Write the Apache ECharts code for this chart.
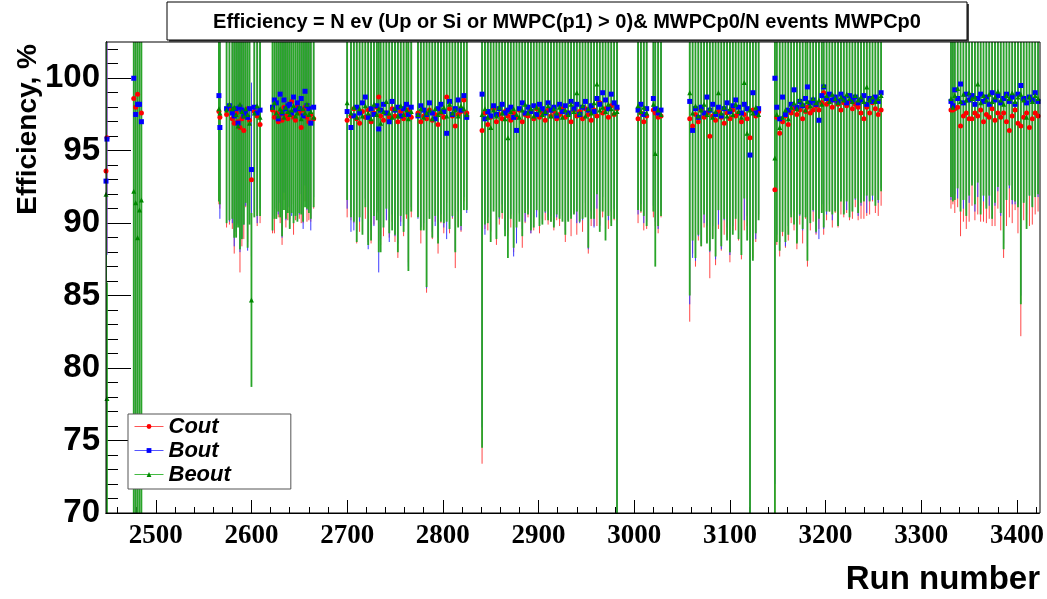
<!DOCTYPE html>
<html><head><meta charset="utf-8">
<script src="https://cdn.jsdelivr.net/npm/echarts@6/dist/echarts.min.js"></script>
<style>html,body{margin:0;padding:0;background:#fff}#c{width:1047px;height:599px}</style>
</head><body><div id="c"></div>
<script>
// ---- data ----
const runs = [
 2448, 2449,
 2477, 2479, 2481, 2483, 2485,
 2566, 2567, 2574, 2577, 2580, 2582, 2584, 2586, 2588, 2590, 2592, 2594, 2596, 2598, 2600, 2603, 2606, 2609, 2622, 2624, 2626, 2628, 2630, 2632, 2634, 2636, 2638, 2640, 2642, 2644, 2646, 2648, 2650, 2652, 2654, 2656, 2658, 2660, 2662, 2665,
 2700, 2704, 2707, 2710, 2713, 2716, 2719, 2722, 2725, 2728, 2731, 2733, 2735, 2738, 2741, 2744, 2747, 2750, 2753, 2756, 2759, 2762, 2764, 2767, 2774, 2777, 2780, 2783, 2786, 2789, 2792, 2795, 2798, 2801, 2804, 2807, 2810, 2813, 2816, 2819, 2822, 2825,
 2841, 2844, 2847, 2850, 2853, 2856, 2859, 2862, 2865, 2868, 2871, 2874, 2877, 2880, 2883, 2886, 2889, 2892, 2895, 2898, 2901, 2904, 2907, 2910, 2913, 2916, 2919, 2922, 2925, 2928, 2931, 2934, 2937, 2940, 2943, 2946, 2949, 2952, 2955, 2958, 2961, 2964, 2967, 2970, 2973, 2976, 2979, 2982,
 3004, 3007, 3010, 3013, 3020, 3022, 3025, 3028,
 3058, 3061, 3064, 3067, 3070, 3073, 3076, 3079, 3082, 3085, 3088, 3091, 3094, 3097, 3100, 3103, 3106, 3109, 3112, 3115, 3118, 3121, 3124, 3127, 3130,
 3147, 3149, 3152, 3155, 3158, 3161, 3164, 3167, 3170, 3173, 3176, 3179, 3181, 3184, 3187, 3190, 3193, 3196, 3198, 3201, 3204, 3207, 3210, 3213, 3216, 3219, 3222, 3225, 3228, 3231, 3234, 3237, 3240, 3243, 3246, 3249, 3252, 3255, 3258,
 3331, 3333, 3335, 3338, 3341, 3344, 3347, 3350, 3353, 3356, 3359, 3362, 3365, 3368, 3371, 3374, 3377, 3380, 3383, 3386, 3389, 3392, 3395, 3398, 3401, 3404, 3407, 3410, 3413, 3416, 3419, 3422
];
const cout = [
 93.6, 95.9,
 98.6, 98.0, 98.9, 98.2, 97.6,
 97.7, 97.3, 97.5, 97.9, 97.2, 96.9, 97.6, 97.0, 96.6, 97.2, 96.4, 97.6, 97.9, 97.1, 93.0, 97.7, 97.4, 96.8, 97.8, 97.3, 97.6, 97.0, 97.5, 97.1, 98.0, 97.4, 97.2, 97.6, 98.4, 97.3, 97.1, 98.1, 97.6, 96.6, 97.8, 98.0, 97.3, 97.0, 97.5, 97.2,
 97.1, 97.4, 97.9, 97.2, 96.9, 97.7, 97.3, 97.8, 97.0, 97.6, 98.0, 98.7, 97.4, 97.1, 97.6, 97.3, 97.9, 97.4, 97.0, 97.7, 97.2, 97.5, 97.8, 97.3, 97.6, 97.0, 97.4, 97.2, 97.8, 97.1, 97.5, 96.8, 97.6, 97.3, 98.7, 97.9, 97.4, 96.7, 97.5, 97.7, 98.5, 97.6,
 96.4, 97.6, 96.8, 97.3, 97.9, 97.0, 97.5, 97.2, 97.7, 97.4, 97.1, 97.6, 97.3, 97.8, 97.0, 97.5, 97.4, 97.7, 97.2, 97.9, 97.3, 97.6, 97.1, 97.8, 97.4, 97.7, 97.2, 97.5, 97.9, 97.3, 97.6, 97.0, 97.8, 97.4, 97.7, 97.2, 97.9, 97.5, 97.1, 97.8, 97.4, 98.3, 97.6, 97.9, 97.3, 98.1, 97.5, 97.9,
 97.2, 97.6, 97.0, 97.4, 97.8, 97.6, 97.3, 97.4,
 97.2, 96.7, 97.5, 97.0, 97.8, 97.3, 97.6, 96.0, 97.4, 97.1, 97.7, 97.3, 96.9, 97.6, 97.2, 97.8, 97.4, 97.6, 97.0, 97.5, 97.2, 95.9, 97.8, 97.4, 97.7,
 92.3, 97.3, 96.2, 97.0, 97.4, 96.8, 97.6, 97.9, 97.5, 97.8, 97.2, 97.7, 98.0, 97.6, 97.8, 98.1, 97.8, 98.3, 99.0, 98.2, 98.4, 98.0, 98.5, 98.2, 97.8, 98.3, 98.1, 98.4, 97.9, 98.2, 98.0, 97.6, 97.2, 98.0, 97.6, 98.3, 97.9, 97.5, 97.8,
 97.8, 97.8, 97.9, 98.0, 96.7, 97.4, 97.6, 97.2, 97.2, 97.6, 97.4, 97.8, 97.0, 97.5, 97.3, 97.9, 97.1, 97.6, 97.3, 97.6, 97.0, 96.4, 97.4, 97.8, 96.9, 96.7, 97.3, 97.6, 96.6, 97.2, 97.6, 97.4
];
const bout = [
 92.9, 95.8,
 100.0, 97.5, 98.2, 98.2, 97.0,
 98.8, 96.6, 97.9, 98.1, 97.6, 97.4, 97.9, 96.9, 98.0, 97.8, 97.4, 97.7, 97.3, 97.9, 93.7, 98.0, 97.6, 97.8, 98.0, 98.5, 98.3, 97.2, 98.9, 97.6, 98.5, 97.9, 98.1, 98.2, 97.6, 98.7, 97.8, 98.3, 97.9, 98.6, 97.4, 99.1, 98.1, 97.9, 96.9, 98.0,
 97.7, 96.6, 97.4, 98.0, 97.6, 98.3, 98.7, 97.3, 97.9, 97.5, 98.1, 96.5, 97.8, 98.2, 97.6, 97.0, 98.4, 97.8, 98.0, 97.4, 97.9, 98.2, 97.5, 98.0, 97.4, 98.1, 97.8, 97.5, 98.3, 97.6, 97.2, 97.9, 98.2, 97.7, 96.2, 98.4, 97.5, 97.9, 98.5, 97.8, 98.8, 97.3,
 98.9, 97.2, 97.7, 97.4, 98.1, 97.5, 97.9, 98.2, 97.6, 97.8, 98.0, 97.3, 96.4, 97.9, 98.3, 97.6, 98.0, 97.7, 98.1, 97.5, 98.2, 97.9, 97.6, 98.3, 97.8, 98.0, 97.4, 98.2, 97.7, 98.1, 97.6, 98.4, 97.9, 98.2, 97.5, 98.0, 98.4, 97.8, 98.1, 97.7, 98.6, 98.2, 99.0, 98.5, 97.9, 98.9, 98.3, 98.0,
 97.8, 98.2, 97.5, 97.9, 98.6, 97.9, 97.6, 97.8,
 98.4, 96.4, 97.9, 97.3, 98.0, 97.6, 98.7, 97.8, 98.2, 97.5, 98.0, 97.4, 97.9, 98.3, 97.7, 98.1, 98.5, 98.0, 97.6, 98.2, 97.9, 94.7, 99.0, 97.6, 97.9,
 100.0, 98.0, 97.2, 98.7, 97.5, 97.8, 98.2, 99.2, 98.0, 98.4, 98.1, 98.6, 99.4, 98.3, 98.5, 98.2, 97.1, 98.8, 99.4, 98.6, 98.9, 98.5, 98.7, 98.4, 98.9, 98.6, 98.3, 98.8, 98.5, 98.7, 98.3, 98.5, 98.8, 98.2, 98.6, 98.4, 98.7, 98.4, 99.0,
 98.4, 98.1, 99.2, 98.6, 99.6, 98.3, 98.9, 98.5, 98.8, 98.2, 98.6, 98.9, 98.4, 98.7, 98.2, 99.0, 98.5, 98.8, 98.3, 98.6, 98.9, 98.4, 98.7, 98.2, 98.9, 99.5, 98.6, 98.3, 98.7, 98.5, 99.0, 98.4
];
const beout = [
 92.0, 77.9,
 92.2, 91.4, 89.0, 90.9, 91.6,
 97.9, 97.6, 97.8, 98.2, 97.9, 98.0, 97.5, 96.7, 98.2, 97.7, 97.4, 97.9, 97.5, 96.9, 84.7, 97.6, 98.1, 97.3, 98.0, 98.3, 97.6, 97.4, 97.9, 97.7, 97.3, 98.0, 97.7, 97.5, 97.8, 98.1, 97.4, 97.6, 98.0, 97.2, 97.9, 97.6, 98.2, 97.5, 97.7, 97.3,
 98.3, 97.6, 98.0, 97.3, 97.9, 97.4, 98.1, 97.6, 97.2, 98.2, 97.5, 97.9, 96.9, 97.7, 98.4, 97.6, 97.3, 97.9, 97.4, 98.1, 97.5, 97.8, 97.2, 97.7, 97.5, 97.9, 97.3, 97.6, 97.8, 97.2, 97.9, 97.5, 97.7, 98.0, 97.4, 98.2, 97.6, 97.8, 97.4, 98.1, 97.9, 97.5,
 97.5, 97.9, 97.3, 96.6, 97.8, 97.4, 98.0, 97.6, 97.2, 95.9, 97.7, 97.9, 97.5, 97.3, 97.8, 98.2, 97.6, 97.9, 97.4, 98.0, 97.8, 97.5, 97.7, 98.1, 97.4, 97.9, 97.6, 98.0, 97.3, 97.8, 97.5, 98.2, 97.7, 99.0, 97.6, 98.1, 97.4, 97.9, 97.6, 98.3, 99.6, 97.8, 98.0, 97.7, 98.2, 97.9, 97.6, 97.7,
 98.1, 97.7, 98.0, 97.6, 98.2, 94.8, 97.8, 97.5,
 99.0, 97.6, 98.1, 97.4, 97.8, 98.2, 97.5, 97.9, 97.3, 97.7, 99.0, 97.6, 98.0, 97.4, 97.9, 97.5, 98.2, 97.7, 97.3, 99.7, 96.2, 97.8, 97.6, 98.0, 97.5,
 94.5, 97.5, 96.6, 97.3, 97.8, 97.2, 98.0, 98.3, 97.9, 98.5, 98.2, 97.8, 98.4, 98.1, 98.6, 98.3, 98.5, 98.2, 99.5, 98.8, 98.4, 98.9, 98.6, 98.3, 98.7, 98.5, 98.9, 98.6, 98.4, 98.8, 98.5, 98.7, 98.4, 99.4, 98.5, 98.7, 98.4, 98.6, 98.8,
 98.6, 98.0, 98.8, 99.3, 98.4, 98.9, 98.5, 99.0, 98.6, 98.7, 99.6, 98.3, 98.8, 98.5, 98.9, 98.4, 98.7, 99.1, 98.5, 98.2, 98.8, 98.6, 99.0, 98.4, 98.7, 98.9, 98.5, 97.3, 98.7, 98.4, 98.8, 98.6
];
// error of each run (same statistical error for the three efficiencies)
const errs = [
 23.0, 8.0,
 30.0, 30.0, 30.0, 30.0, 30.0,
 6.4, 6.3, 7.8, 8.0, 7.6, 9.0, 8.5, 7.0, 10.0, 8.8, 7.5, 6.5, 9.2, 7.0, 6.0, 7.2, 7.6, 6.8, 8.5, 8.0, 7.3, 6.6, 7.5, 8.6, 6.4, 7.7, 7.0, 7.9, 7.1, 8.1, 6.9, 7.5, 7.3, 6.6, 7.8, 6.5, 7.2, 6.8, 7.4, 6.2,
 6.7, 7.2, 7.9, 8.6, 7.5, 8.2, 7.0, 9.1, 8.4, 7.7, 7.3, 9.9, 8.9, 8.0, 7.4, 8.3, 7.8, 8.7, 9.4, 7.6, 8.1, 7.2, 10.5, 6.9, 7.1, 8.4, 7.8, 12.0, 7.5, 8.2, 7.4, 8.9, 7.6, 8.0, 7.3, 8.6, 7.1, 9.8, 7.7, 8.3, 7.0, 6.6,
 23.0, 8.0, 7.3, 7.9, 7.0, 8.5, 7.6, 6.9, 8.1, 8.3, 7.4, 9.6, 7.8, 7.2, 8.7, 7.5, 7.0, 8.4, 7.7, 7.1, 8.0, 7.6, 6.9, 7.9, 7.3, 8.2, 7.0, 7.7, 7.2, 8.6, 7.4, 7.9, 7.1, 8.2, 7.5, 7.8, 7.0, 9.6, 7.3, 8.0, 7.6, 8.4, 7.2, 8.9, 7.7, 8.1, 7.3, 28.0,
 7.2, 6.9, 7.5, 7.8, 7.4, 7.8, 8.0, 7.0,
 14.0, 8.8, 10.5, 8.2, 9.4, 7.6, 8.9, 9.8, 8.4, 10.0, 8.1, 9.2, 7.7, 8.6, 9.9, 8.3, 7.9, 8.8, 9.5, 8.0, 7.4, 28.0, 10.2, 8.7, 7.3,
 28.0, 8.8, 8.5, 7.9, 9.1, 8.0, 7.6, 8.4, 9.3, 7.9, 8.6, 7.4, 11.0, 8.1, 7.7, 8.9, 8.2, 7.5, 9.8, 8.0, 7.6, 8.3, 7.8, 8.5, 7.2, 7.9, 7.4, 8.2, 7.6, 7.1, 7.8, 7.3, 6.9, 7.5, 7.0, 6.8, 7.2, 7.0, 6.6,
 6.8, 6.5, 7.2, 6.9, 7.6, 7.3, 8.0, 7.1, 6.0, 7.4, 6.8, 7.7, 6.9, 7.5, 7.0, 8.1, 7.3, 6.6, 7.8, 10.0, 7.2, 6.0, 7.4, 6.9, 7.6, 14.5, 7.1, 7.7, 6.8, 7.3, 7.0, 6.6
];
const seriesNames = ['Cout', 'Bout', 'Beout'];
const xMajorTicks = [2500, 2600, 2700, 2800, 2900, 3000, 3100, 3200, 3300, 3400];
const yMajorTicks = [70, 75, 80, 85, 90, 95, 100];
const titleText = 'Efficiency = N ev (Up or Si or MWPC(p1) > 0)& MWPCp0/N events MWPCp0';
const xTitle = 'Run number';
const yTitle = 'Efficiency, %';
const X_MIN = 2448, X_MAX = 3423, Y_MIN = 70, Y_MAX = 102.5;

const xMinorTicks = [];
for (let v = 2460; v <= 3420; v += 20) if (v % 100 !== 0) xMinorTicks.push(v);
const yMinorTicks = [];
for (let v = 71; v <= 102; v += 1) if (v % 5 !== 0) yMinorTicks.push(v);

const GRID = {left: 106, right: 7, top: 42, bottom: 86};
const W = 1047, H = 599;

function errSeries(name, vals, color, width) {
  return {
    type: 'custom', name: name + ' err', clip: true, silent: true, z: 2,
    data: runs.map((r, i) => [r, vals[i], errs[i]]),
    encode: {x: 0, y: 1},
    renderItem: function (params, api) {
      const x = api.value(0), y = api.value(1), e = api.value(2);
      const p1 = api.coord([x, y + e]);
      const p2 = api.coord([x, y - e]);
      return {type: 'line', shape: {x1: p1[0], y1: p1[1], x2: p2[0], y2: p2[1]},
              style: {stroke: color, lineWidth: width}};
    }
  };
}
function markSeries(name, vals, color, symbol, size) {
  return {
    type: 'line', name: name, data: runs.map((r, i) => [r, vals[i]]),
    symbol: symbol, symbolSize: size, showSymbol: true, showAllSymbol: true,
    lineStyle: {width: 0, opacity: 0}, itemStyle: {color: color},
    clip: true, silent: true, z: 5, animation: false
  };
}

const chart = echarts.init(document.getElementById('c'), null, {renderer: 'canvas'});
const axisCommon = {
  type: 'value', splitLine: {show: false},
  axisLine: {show: true, lineStyle: {color: '#000', width: 1}}
};
chart.setOption({
  animation: false,
  backgroundColor: '#fff',
  grid: {left: GRID.left, right: GRID.right, top: GRID.top, bottom: GRID.bottom, containLabel: false},
  xAxis: [
    Object.assign({}, axisCommon, {min: X_MIN, max: X_MAX, position: 'bottom',
      axisTick: {show: true, inside: true, length: 13, customValues: xMajorTicks, lineStyle: {color: '#000'}},
      axisLabel: {show: true, customValues: xMajorTicks, margin: 10, color: '#000',
        formatter: v => String(v),
        fontFamily: 'Liberation Serif', fontWeight: 'bold', fontSize: 27}}),
    Object.assign({}, axisCommon, {min: X_MIN, max: X_MAX, position: 'bottom', offset: 0,
      axisTick: {show: true, inside: true, length: 6, customValues: xMinorTicks, lineStyle: {color: '#000'}},
      axisLabel: {show: false}})
  ],
  yAxis: [
    Object.assign({}, axisCommon, {min: Y_MIN, max: Y_MAX, position: 'left',
      axisTick: {show: true, inside: true, length: 25, customValues: yMajorTicks, lineStyle: {color: '#000'}},
      axisLabel: {show: true, customValues: yMajorTicks, margin: 6, color: '#000',
        formatter: v => String(v),
        fontFamily: 'Liberation Sans', fontWeight: 'bold', fontSize: 33}}),
    Object.assign({}, axisCommon, {min: Y_MIN, max: Y_MAX, position: 'left', offset: 0,
      axisTick: {show: true, inside: true, length: 12, customValues: yMinorTicks, lineStyle: {color: '#000'}},
      axisLabel: {show: false}})
  ],
  legend: {
    left: 128, top: 414, orient: 'vertical', backgroundColor: '#fff',
    borderColor: '#555', borderWidth: 1, borderRadius: 0,
    padding: [1, 60, 3, 6], itemGap: 1, itemWidth: 29, itemHeight: 6,
    textStyle: {fontFamily: 'Liberation Sans', fontWeight: 'bold', fontStyle: 'italic', fontSize: 22, color: '#000', lineHeight: 23},
    data: [
      {name: seriesNames[0], lineStyle: {color: '#ff5555', width: 1, opacity: 1}},
      {name: seriesNames[1], lineStyle: {color: '#5555ff', width: 1, opacity: 1}},
      {name: seriesNames[2], lineStyle: {color: '#44bb44', width: 1, opacity: 1}}
    ],
    z: 20
  },
  series: [
    errSeries('Cout', cout, 'rgb(255,70,70)', 1),
    errSeries('Bout', bout, 'rgb(60,60,255)', 1),
    errSeries('Beout', beout, 'rgb(40,165,40)', 1.8),
    markSeries(seriesNames[0], cout, '#ff0000', 'circle', 5),
    markSeries(seriesNames[1], bout, '#0000ff', 'rect', 5),
    markSeries(seriesNames[2], beout, '#008800', 'triangle', 5)
  ],
  graphic: [
    {type: 'rect', z: 30, silent: true,
     shape: {x: GRID.left, y: GRID.top, width: W - GRID.left - GRID.right, height: H - GRID.top - GRID.bottom},
     style: {fill: 'none', stroke: '#000', lineWidth: 1}},
    {type: 'rect', z: 31, silent: true, shape: {x: 169, y: 4, width: 800, height: 38},
     style: {fill: '#444', stroke: 'none'}},
    {type: 'rect', z: 32, silent: true, shape: {x: 167, y: 2, width: 800, height: 38},
     style: {fill: '#fff', stroke: '#000', lineWidth: 1}},
    {type: 'text', z: 33, silent: true, x: 567, y: 22,
     style: {text: titleText, align: 'center', verticalAlign: 'middle', fill: '#000',
       font: 'bold 20px "Liberation Sans", Arial, sans-serif'}},
    {type: 'text', z: 33, silent: true, x: 1040, y: 580,
     style: {text: xTitle, align: 'right', verticalAlign: 'middle', fill: '#000',
       font: 'bold 33px "Liberation Sans", Arial, sans-serif'}},
    {type: 'text', z: 33, silent: true, x: 28, y: 44, rotation: Math.PI / 2,
     style: {text: yTitle, align: 'right', verticalAlign: 'middle', fill: '#000',
       font: 'bold 28px "Liberation Sans", Arial, sans-serif'}}
  ]
});
</script></body></html>
